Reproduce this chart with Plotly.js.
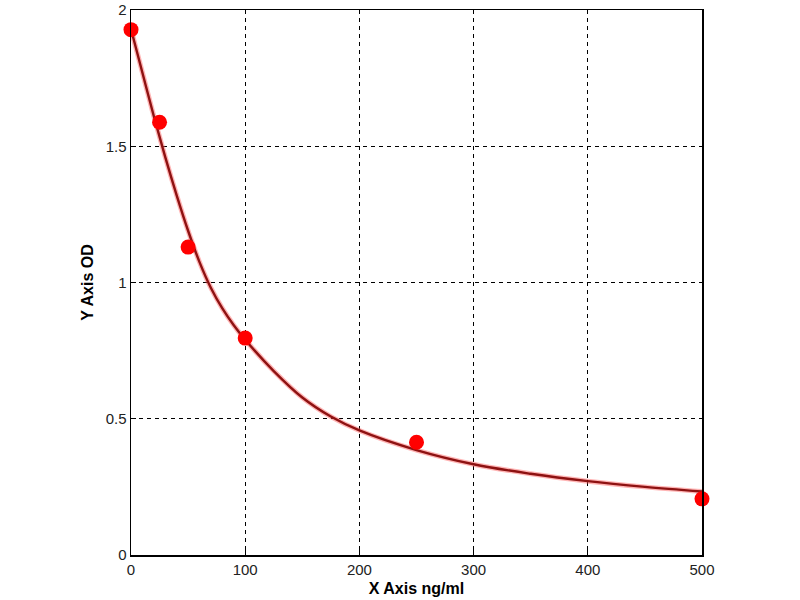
<!DOCTYPE html>
<html>
<head>
<meta charset="utf-8">
<script src="https://cdn.plot.ly/plotly-3.0.1.min.js"></script>
<style>html,body{margin:0;padding:0;background:#fff;}#chart{width:800px;height:600px;}</style>
</head>
<body>
<div id="chart"></div>
<script>
// Measured standard points
var concentration = [0, 25, 50, 100, 250, 500];
var odValues = [1.928, 1.588, 1.13, 0.796, 0.414, 0.206];

// Fitted curve
var curveX = [0, 10, 20, 30, 40, 50, 60, 70, 80, 90, 100, 125, 150, 175, 200, 250, 300, 350, 400, 450, 500];
var curveY = [1.93, 1.77, 1.61, 1.46, 1.32, 1.19, 1.075, 0.98, 0.905, 0.843, 0.79, 0.675, 0.578, 0.508, 0.457, 0.385, 0.333, 0.298, 0.271, 0.250, 0.233];

var xTicks = [0, 100, 200, 300, 400, 500];
var yTicks = [0, 0.5, 1, 1.5, 2];
var yTickText = ['0', '0.5', '1', '1.5', '2'];

var traces = [
  {x: curveX, y: curveY, mode: 'lines', line: {color: 'rgba(255,90,90,0.45)', width: 5, shape: 'spline', smoothing: 1}, hoverinfo: 'skip', showlegend: false},
  {x: curveX, y: curveY, mode: 'lines', line: {color: '#8e1212', width: 2.4, shape: 'spline', smoothing: 1}, showlegend: false},
  {x: concentration, y: odValues, mode: 'markers', marker: {color: '#ff0000', size: 15, line: {width: 0}}, cliponaxis: false, showlegend: false}
];

var axisCommon = {
  showline: true, linecolor: '#000', linewidth: 1.5, mirror: true,
  showgrid: true, gridcolor: '#000', gridwidth: 1, griddash: '4px,4px',
  ticks: 'inside', ticklen: 5, tickcolor: '#000', tickwidth: 1,
  zeroline: false, ticklabeloverflow: 'allow',
  tickfont: {family: 'Liberation Sans, Arial, sans-serif', size: 15, color: '#222'}
};

var layout = {
  width: 800, height: 600,
  margin: {l: 131, r: 98, t: 10, b: 45},
  paper_bgcolor: '#fff', plot_bgcolor: '#fff',
  xaxis: Object.assign({}, axisCommon, {
    range: [0, 500], tickvals: xTicks, ticktext: xTicks.map(String),
    title: {text: 'X Axis ng/ml', font: {family: 'Liberation Sans, Arial, sans-serif', size: 16, color: '#000', weight: 'bold'}, standoff: 6}
  }),
  yaxis: Object.assign({}, axisCommon, {
    range: [0, 2.0001], tickvals: yTicks, ticktext: yTickText,
    title: {text: 'Y Axis OD', font: {family: 'Liberation Sans, Arial, sans-serif', size: 16, color: '#000', weight: 'bold'}, standoff: 8}
  })
};

Plotly.newPlot('chart', traces, layout, {displayModeBar: false, staticPlot: true});
</script>
</body>
</html>
